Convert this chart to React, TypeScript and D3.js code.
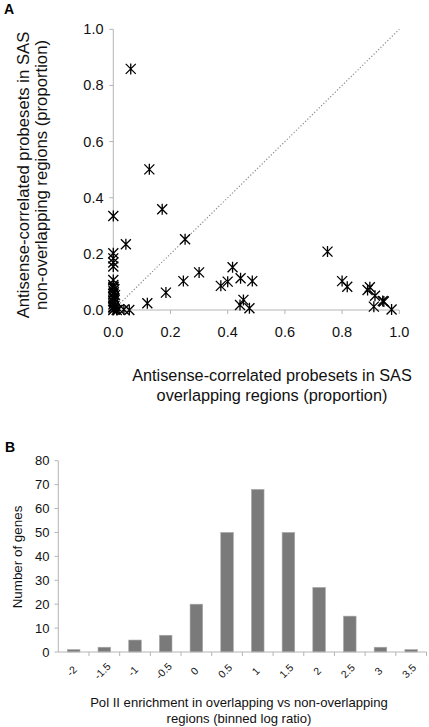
import React from "react";
import * as d3 from "d3";

// Panel A: scatter (proportions)
const overlapX = [
  0.061, 0.126, 0.171, 0.0, 0.044, 0.251, 0.0, 0.0, 0.0, 0.0, 0.0, 0.0,
  0.037, 0.056, 0.119, 0.184, 0.245, 0.30, 0.376, 0.40, 0.417, 0.445, 0.486,
  0.443, 0.455, 0.476, 0.749, 0.80, 0.818, 0.889, 0.897, 0.915, 0.911, 0.942,
  0.946, 0.973,
  0.0, 0.002, 0.0, 0.004, 0.0, 0.003, 0.0, 0.005, 0.001, 0.0, 0.006, 0.0,
  0.002, 0.0, 0.004, 0.0, 0.001, 0.0, 0.003, 0.012, 0.02,
];
const nonOverlapY = [
  0.859, 0.501, 0.359, 0.335, 0.234, 0.252, 0.202, 0.184, 0.169, 0.155, 0.107, 0.089,
  0.002, 0.0, 0.024, 0.062, 0.103, 0.134, 0.086, 0.101, 0.152, 0.113, 0.103,
  0.018, 0.036, 0.006, 0.208, 0.103, 0.083, 0.071, 0.081, 0.051, 0.012, 0.032,
  0.030, 0.002,
  0.0, 0.004, 0.009, 0.014, 0.02, 0.025, 0.031, 0.036, 0.042, 0.047, 0.053, 0.058,
  0.063, 0.069, 0.074, 0.079, 0.083, 0.012, 0.04, 0.0, 0.003,
];
const scatterTicks = [0, 0.2, 0.4, 0.6, 0.8, 1.0];

// Panel B: histogram
const bins = ["-2", "-1.5", "-1", "-0.5", "0", "0.5", "1", "1.5", "2", "2.5", "3", "3.5"];
const geneCounts = [1, 2, 5, 7, 20, 50, 68, 50, 27, 15, 2, 1];
const countTicks = [0, 10, 20, 30, 40, 50, 60, 70, 80];

const FONT = "'Liberation Sans', Arial, Helvetica, sans-serif";
const AXIS = "#b5b5b5";

export default function App() {
  // scatter scales
  const sx = d3.scaleLinear().domain([0, 1]).range([113.3, 399.3]);
  const sy = d3.scaleLinear().domain([0, 1]).range([310, 29.3]);
  const star = "M-5,-5L5,5M-5,5L5,-5M0,-5.5L0,5.5";

  // bar scales
  const bx = d3.scaleBand<string>().domain(bins).range([58.3, 426.5]).paddingInner(0.59).paddingOuter(0.295);
  const bxOuter = d3.scaleBand<string>().domain(bins).range([58.3, 426.5]);
  const by = d3.scaleLinear().domain([0, 80]).range([652, 460.7]);

  return (
    <svg width={429} height={727} style={{ position: "absolute", left: 0, top: 0 }} fontFamily={FONT}>
      <rect x={0} y={0} width={429} height={727} fill="#fff" />
      {/* ---------- Panel A ---------- */}
      <text x={4} y={14} fontSize={14} fontWeight="bold" fill="#000">A</text>
      {/* diagonal */}
      <line x1={sx(0)} y1={sy(0)} x2={sx(1)} y2={sy(1)} stroke="#8a8a8a" strokeWidth={1.2} strokeDasharray="1.2,2" />
      {/* axes */}
      <line x1={sx(0)} y1={sy(0)} x2={sx(1)} y2={sy(0)} stroke={AXIS} strokeWidth={1} />
      <line x1={sx(0)} y1={sy(0)} x2={sx(0)} y2={sy(1)} stroke={AXIS} strokeWidth={1} />
      {scatterTicks.map((t) => (
        <g key={"xt" + t}>
          <line x1={sx(t)} x2={sx(t)} y1={sy(0)} y2={sy(0) + 4} stroke={AXIS} />
          <text x={sx(t)} y={337} fontSize={14.5} textAnchor="middle" fill="#111">{t.toFixed(1)}</text>
        </g>
      ))}
      {scatterTicks.map((t) => (
        <g key={"yt" + t}>
          <line x1={sx(0) - 4} x2={sx(0)} y1={sy(t)} y2={sy(t)} stroke={AXIS} />
          <text x={103.5} y={sy(t) + 5} fontSize={14.5} textAnchor="end" fill="#111">{t.toFixed(1)}</text>
        </g>
      ))}
      {overlapX.map((x, i) => (
        <path key={"p" + i} d={star} transform={`translate(${sx(x)},${sy(nonOverlapY[i])})`} stroke="#000" strokeWidth={1.3} fill="none" />
      ))}
      <text fontSize={16.3} textAnchor="middle" fill="#111">
        <tspan x={272} y={381}>Antisense-correlated probesets in SAS</tspan>
        <tspan x={272} y={401}>overlapping regions (proportion)</tspan>
      </text>
      <text fontSize={16.7} textAnchor="middle" fill="#111" transform="translate(0,175) rotate(-90)">
        <tspan x={0} y={29}>Antisense-correlated probesets in SAS</tspan>
        <tspan x={0} y={46.5}>non-overlapping regions (proportion)</tspan>
      </text>

      {/* ---------- Panel B ---------- */}
      <text x={5} y={452} fontSize={14} fontWeight="bold" fill="#000">B</text>
      {geneCounts.map((v, i) => (
        <rect key={"b" + i} x={bx(bins[i])!} y={by(v)} width={bx.bandwidth()} height={by(0) - by(v)}
          fill="#7a7a7a" stroke="#a8a8a8" strokeWidth={0.6} />
      ))}
      <line x1={58.3} y1={by(0)} x2={426.5} y2={by(0)} stroke={AXIS} />
      <line x1={58.3} y1={by(0)} x2={58.3} y2={by(80)} stroke={AXIS} />
      {countTicks.map((t) => (
        <g key={"cy" + t}>
          <line x1={54.5} x2={58.3} y1={by(t)} y2={by(t)} stroke={AXIS} />
          <text x={49.5} y={by(t) + 4.6} fontSize={13} textAnchor="end" fill="#111">{t}</text>
        </g>
      ))}
      {bins.map((b, i) => (
        <line key={"bt" + i} x1={bxOuter(b)! + bxOuter.bandwidth()} x2={bxOuter(b)! + bxOuter.bandwidth()}
          y1={by(0)} y2={by(0) + 4} stroke={AXIS} />
      ))}
      {bins.map((b) => (
        <text key={"bl" + b} fontSize={10.5} textAnchor="middle" fill="#111"
          transform={`translate(${bxOuter(b)! + bxOuter.bandwidth() / 2 - 2},${671}) rotate(-45)`} dy="0.35em">{b}</text>
      ))}
      <text fontSize={13.4} textAnchor="middle" fill="#111" transform="translate(0,557) rotate(-90)">
        <tspan x={0} y={22}>Number of genes</tspan>
      </text>
      <text fontSize={13.1} textAnchor="middle" fill="#111">
        <tspan x={239} y={706.5}>Pol II enrichment in overlapping vs non-overlapping</tspan>
        <tspan x={239} y={722.5}>regions (binned log ratio)</tspan>
      </text>
    </svg>
  );
}
